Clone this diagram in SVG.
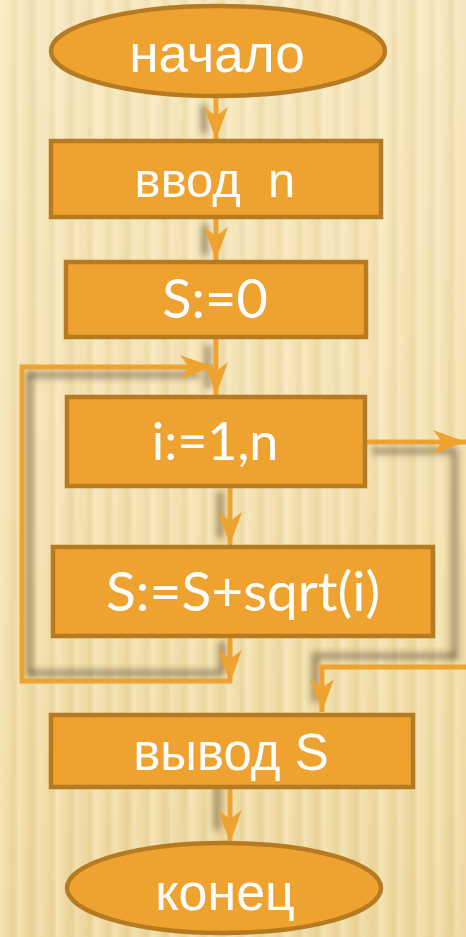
<svg xmlns="http://www.w3.org/2000/svg" width="466" height="937" viewBox="0 0 466 937">
<style>
.node{fill:#EEA330;stroke:#B67A22;stroke-width:4.5}
.cyr{font-family:"Liberation Sans",Arial,sans-serif;fill:#fff;text-anchor:middle;white-space:pre}
.lat{font-family:Lato,"Open Sans",sans-serif;fill:#fff;text-anchor:middle}
.con{fill:none;stroke:#EEA330;stroke-width:5}
.sh{fill:none;stroke:#4a3a20;stroke-width:7;opacity:0.45}
</style>
<defs>
<linearGradient id="bgGrad" x1="0" y1="0" x2="0" y2="1">
<stop offset="0" stop-color="#f7eac2"/>
<stop offset="0.5" stop-color="#f4e3b3"/>
<stop offset="1" stop-color="#efd9a0"/>
</linearGradient>
<linearGradient id="stripe" x1="0" y1="0" x2="1" y2="0">
<stop offset="0" stop-color="#fff8de" stop-opacity="0.35"/>
<stop offset="0.4" stop-color="#fff8de" stop-opacity="0.05"/>
<stop offset="0.65" stop-color="#c9a860" stop-opacity="0.1"/>
<stop offset="1" stop-color="#fff8de" stop-opacity="0.35"/>
</linearGradient>
<linearGradient id="stripe2" x1="0" y1="0" x2="1" y2="0">
<stop offset="0" stop-color="#d8b870" stop-opacity="0"/>
<stop offset="0.5" stop-color="#d8b870" stop-opacity="0.12"/>
<stop offset="1" stop-color="#d8b870" stop-opacity="0"/>
</linearGradient>
<pattern id="stripes" x="0" y="0" width="19" height="937" patternUnits="userSpaceOnUse">
<rect width="19" height="937" fill="url(#stripe)"/>
</pattern>
<pattern id="stripes2" x="7" y="0" width="47" height="937" patternUnits="userSpaceOnUse">
<rect width="47" height="937" fill="url(#stripe2)"/>
</pattern>
<filter id="blur" x="-50%" y="-50%" width="200%" height="200%">
<feGaussianBlur stdDeviation="3"/>
</filter>
<marker id="ah" viewBox="-1 -14 36 28" refX="33" refY="0" markerWidth="36" markerHeight="28" markerUnits="userSpaceOnUse" orient="auto">
<path d="M0,-12 L33,0 L0,12 L9,0 Z" fill="#EEA330"/>
</marker>
</defs>
<rect width="466" height="937" fill="url(#bgGrad)"/>
<rect width="466" height="937" fill="url(#stripes)"/>
<rect width="466" height="937" fill="url(#stripes2)"/>
<g id="shadows" filter="url(#blur)">
<path class="sh" d="M204,105 V133"/>
<path class="sh" d="M205,224 V255"/>
<path class="sh" d="M208,345 V388"/>
<path class="sh" d="M28,375 H200"/>
<path class="sh" d="M29,372 V676"/>
<path class="sh" d="M29,673 H222"/>
<path class="sh" d="M220,492 V538"/>
<path class="sh" d="M222,642 V672"/>
<path class="sh" d="M372,451 H455 V660"/>
<path class="sh" d="M455,656 H315 V702"/>
<path class="sh" d="M217,780 V830"/>
</g>
<g id="connectors">
<path class="con" d="M216,97 V140" marker-end="url(#ah)"/>
<path class="con" d="M216,219 V260" marker-end="url(#ah)"/>
<path class="con" d="M216,339 V395" marker-end="url(#ah)"/>
<path class="con" d="M230,486 V545" marker-end="url(#ah)"/>
<path class="con" d="M230,638 V683" marker-end="url(#ah)"/>
<path class="con" d="M232,681 H22 V367 H213" marker-end="url(#ah)"/>
<path class="con" d="M367,442 H466" marker-end="url(#ah)"/>
<path class="con" d="M466,667 H322 V712" marker-end="url(#ah)"/>
<path class="con" d="M230,789 V843" marker-end="url(#ah)"/>
</g>
<g id="start">
<ellipse class="node" cx="218" cy="51" rx="167" ry="45"/>
<text class="cyr" x="217" y="72" font-size="53">начало</text>
</g>
<g id="input">
<rect class="node" x="51" y="141" width="330" height="76"/>
<text class="cyr" x="215" y="197" font-size="49">ввод  n</text>
</g>
<g id="init">
<rect class="node" x="66" y="262" width="300" height="75"/>
<text class="lat" x="215" y="318" font-size="54">S:=0</text>
</g>
<g id="loop">
<rect class="node" x="67" y="397" width="298" height="89"/>
<text class="lat" x="215" y="460" font-size="52">i:=1,n</text>
</g>
<g id="body">
<rect class="node" x="53" y="547" width="380" height="89"/>
<text class="lat" x="243" y="611" font-size="55">S:=S+sqrt(i)</text>
</g>
<g id="output">
<rect class="node" x="51" y="715" width="362" height="72"/>
<text class="cyr" x="231" y="770" font-size="51">вывод S</text>
</g>
<g id="end">
<ellipse class="node" cx="224" cy="888" rx="157" ry="45"/>
<text class="cyr" x="225" y="910" font-size="52">конец</text>
</g>
</svg>
